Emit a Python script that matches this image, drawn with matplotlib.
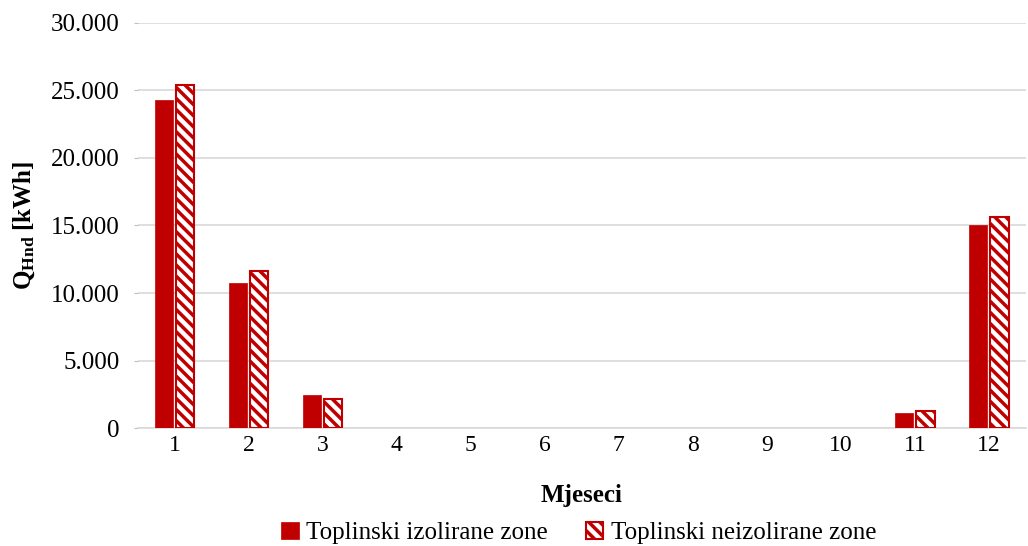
import matplotlib.pyplot as plt
import numpy as np

plt.rcParams['font.family'] = ['Liberation Serif', 'DejaVu Serif']
plt.rcParams['mathtext.fontset'] = 'custom'
plt.rcParams['mathtext.rm'] = 'Liberation Serif'
plt.rcParams['mathtext.bf'] = 'Liberation Serif:bold'
plt.rcParams['hatch.linewidth'] = 2.5

# data
months = ['1', '2', '3', '4', '5', '6', '7', '8', '9', '10', '11', '12']
izolirane = [24300, 10750, 2440, 0, 0, 0, 0, 0, 0, 0, 1110, 15050]
neizolirane = [25400, 11600, 2150, 0, 0, 0, 0, 0, 0, 0, 1260, 15620]

red = '#c00000'
x = np.arange(len(months))
w = 0.245

fig = plt.figure(figsize=(10.28, 5.46), dpi=100)
ax = fig.add_axes([0.134, 0.216, 0.864, 0.742])

# zero-height bars get no outline
lw_iz = [0 if v == 0 else 0.5 for v in izolirane]
lw_ne = [0 if v == 0 else 1.5 for v in neizolirane]

ax.bar(x - w / 2 - 0.02, izolirane, w, color=red, edgecolor=red, linewidth=lw_iz,
       label='Toplinski izolirane zone', zorder=3)
ax.bar(x + w / 2 + 0.02, neizolirane, w, color='white', edgecolor=red, linewidth=lw_ne,
       hatch='\\\\\\', label='Toplinski neizolirane zone', zorder=3)

ax.set_xlim(-0.5, 11.5)
ax.set_ylim(0, 30000)
ax.set_yticks(np.arange(0, 30001, 5000))
ax.set_yticklabels(['0' if v == 0 else f'{v:,}'.replace(',', '.') for v in range(0, 30001, 5000)])
ax.set_xticks(x)
ax.set_xticklabels(months)
ax.tick_params(axis='x', labelsize=17, length=0, pad=5)
ax.tick_params(axis='y', labelsize=18, length=3, color='#bfbfbf', pad=10)

ax.grid(axis='y', color='#d9d9d9', linewidth=1.2, zorder=0)
for s in ['top', 'right', 'left']:
    ax.spines[s].set_visible(False)
ax.spines['bottom'].set_color('#d9d9d9')
ax.spines['bottom'].set_linewidth(1.2)

ax.set_ylabel(r'$\mathbf{Q_{Hnd}}$ [kWh]', fontsize=18, fontweight='bold', labelpad=10)
ax.set_xlabel('Mjeseci', fontsize=18, fontweight='bold', labelpad=20)

fig.legend(*ax.get_legend_handles_labels(), loc='center', bbox_to_anchor=(0.563, 0.024),
           ncol=2, frameon=False, fontsize=18, handlelength=0.7, handleheight=0.7,
           handletextpad=0.3, columnspacing=1.5)

fig.savefig('out.png', dpi=100)
